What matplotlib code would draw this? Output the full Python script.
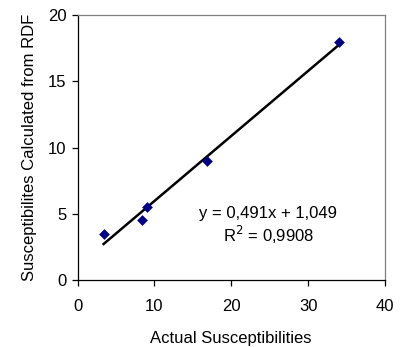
import matplotlib
matplotlib.use("Agg")
import matplotlib.pyplot as plt
import numpy as np

plt.rcParams['font.family'] = ['Liberation Sans', 'DejaVu Sans']

actual = [3.4, 8.4, 9.0, 16.9, 34.0]
calculated = [3.5, 4.5, 5.5, 9.0, 18.0]
slope, intercept = 0.491, 1.049
eq_text = "y = 0,491x + 1,049"
r2_text = "R$^2$ = 0,9908"

fig = plt.figure(figsize=(4.02, 3.47), dpi=100)
W, H = 402, 347
ax = fig.add_axes([77.5 / W, 1 - 280 / H, (385 - 77.5) / W, (280 - 15) / H])

xs = np.array([min(actual), max(actual)])
ax.plot(xs, slope * xs + intercept, color='black', lw=1.8, zorder=2)
ax.scatter(actual, calculated, marker='D', s=30, color='#000080', zorder=3, linewidths=0)

ax.set_xlim(0, 40)
ax.set_ylim(0, 20)
ax.set_xticks([0, 10, 20, 30, 40])
ax.set_yticks([0, 5, 10, 15, 20])
for s in ['top', 'right']:
    ax.spines[s].set_color('#808080')
for s in ['left', 'bottom']:
    ax.spines[s].set_color('black')
for s in ax.spines.values():
    s.set_linewidth(0.9)
ax.tick_params(direction='out', length=4, width=0.9, labelsize=12)
ax.tick_params(axis='x', pad=10)
ax.tick_params(axis='y', pad=4)
ax.set_xlabel("Actual Susceptibilities", fontsize=12, labelpad=12)
ax.set_ylabel("Susceptibilites Calculated from RDF", fontsize=12, labelpad=8)

ax.text(0.62, 0.204, eq_text + "\n" + r2_text, transform=ax.transAxes,
        ha='center', va='center', fontsize=12, linespacing=1.15)

fig.savefig("out.png", dpi=100)
